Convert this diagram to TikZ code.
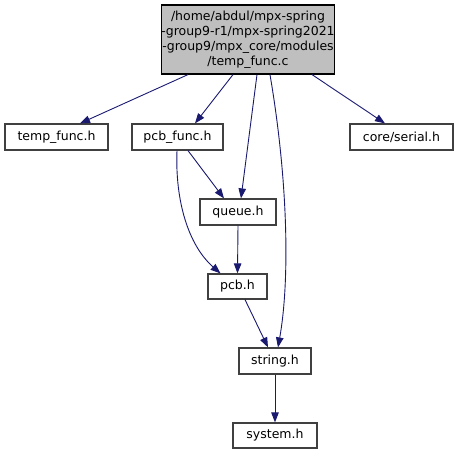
\documentclass[tikz,border=0pt]{standalone}
\usepackage{fontspec}
\setmainfont{DejaVu Sans}
\usetikzlibrary{arrows.meta}
\definecolor{edgeblue}{HTML}{191970}
\definecolor{nodeborder}{HTML}{404040}
\definecolor{mainfill}{HTML}{BFBFBF}
\begin{document}
\begin{tikzpicture}[x=1pt,y=-1pt,
  box/.style={draw=nodeborder,line width=1.2pt,fill=white,inner sep=0pt,
    font=\fontsize{12.5}{15}\selectfont,align=center},
  mainbox/.style={box,draw=black,fill=mainfill},
  edge/.style={draw=edgeblue,line width=0.9pt,
    -{Triangle[length=10pt,width=7.5pt]}}]
\useasboundingbox (0,0) rectangle (459,455);
\node[mainbox,minimum width=170pt,minimum height=69pt] (main) at (248,39.5)
  {/home/abdul/mpx-spring\\-group9-r1/mpx-spring2021\\-group9/mpx\_core/modules\\/temp\_func.c};
\node[box,minimum width=103pt,minimum height=26pt] (tf) at (56.5,137) {temp\_func.h};
\node[box,minimum width=91pt,minimum height=26pt] (pf) at (177.5,137) {pcb\_func.h};
\node[box,minimum width=103pt,minimum height=26pt] (cs) at (401.5,137) {core/serial.h};
\node[box,minimum width=76pt,minimum height=26pt] (q) at (238,212) {queue.h};
\node[box,minimum width=59pt,minimum height=25pt] (pcb) at (237.5,286.5) {pcb.h};
\node[box,minimum width=72pt,minimum height=26pt] (str) at (275,361) {string.h};
\node[box,minimum width=84pt,minimum height=25pt] (sys) at (275,435.5) {system.h};

\draw[edge] ([xshift=-60pt]main.south) -- ([xshift=23.5pt]tf.north);
\draw[edge] ([xshift=-15pt]main.south) -- ([xshift=17.5pt]pf.north);
\draw[edge] ([xshift=9pt]main.south) -- ([xshift=3pt]q.north);
\draw[edge] ([xshift=22pt]main.south) .. controls (288,180) and (290,280) .. ([xshift=3pt]str.north);
\draw[edge] ([xshift=64pt]main.south) -- ([xshift=-16.5pt]cs.north);
\draw[edge] ([xshift=10.5pt]pf.south) -- ([xshift=-14pt]q.north);
\draw[edge] ([xshift=-0.5pt]pf.south) .. controls (175,200) and (188,245) .. ([xshift=-17pt]pcb.north);
\draw[edge] (q.south) -- (pcb.north);
\draw[edge] ([xshift=7.5pt]pcb.south) -- ([xshift=-7pt]str.north);
\draw[edge] (str.south) -- (sys.north);
\end{tikzpicture}
\end{document}
